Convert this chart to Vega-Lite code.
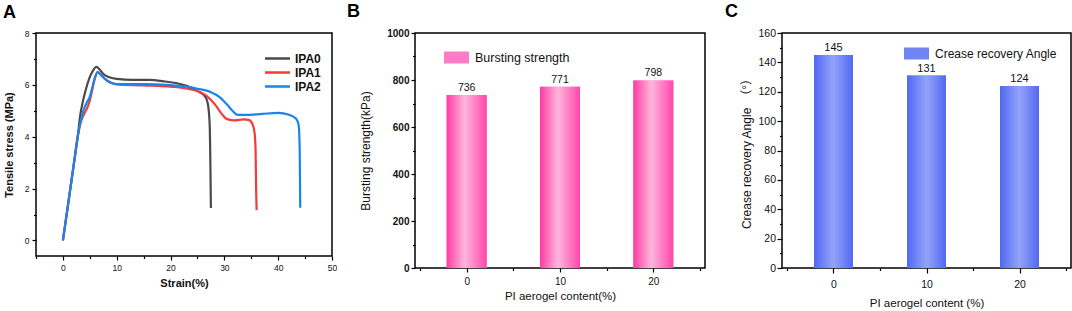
{
  "$schema": "https://vega.github.io/schema/vega-lite/v6.json",
  "background": "white",
  "padding": {"left": 2, "top": 2, "right": 0, "bottom": 0},
  "config": {
    "view": {"stroke": "black", "strokeWidth": 1.5},
    "axis": {"domain": false, "grid": false, "tickColor": "black", "tickWidth": 1.2, "labelColor": "#111", "titleColor": "#111", "labelFont": "Liberation Sans", "titleFont": "Liberation Sans", "labelOverlap": false, "labelFlush": false, "format": "d"},
    "legend": {"labelFont": "Liberation Sans", "labelColor": "#111", "padding": 0, "title": null},
    "title": {"anchor": "start", "frame": "group", "fontSize": 18, "fontWeight": "bold", "font": "Liberation Sans", "color": "black", "offset": 7}
  },
  "spacing": 8,
  "resolve": {"scale": {"fill": "independent", "color": "independent"}, "legend": {"fill": "independent", "color": "independent"}},
  "hconcat": [
    {
      "title": {"text": "A", "dx": -33},
      "width": 296,
      "height": 223,
      "data": {"values": [
        {"sample": "IPA0", "strain": 0, "stress": 0},
        {"sample": "IPA0", "strain": 1, "stress": 1.45},
        {"sample": "IPA0", "strain": 2, "stress": 2.9},
        {"sample": "IPA0", "strain": 2.75, "stress": 4.0},
        {"sample": "IPA0", "strain": 3.2, "stress": 4.8},
        {"sample": "IPA0", "strain": 3.7, "stress": 5.35},
        {"sample": "IPA0", "strain": 4.3, "stress": 5.85},
        {"sample": "IPA0", "strain": 4.9, "stress": 6.25},
        {"sample": "IPA0", "strain": 5.6, "stress": 6.55},
        {"sample": "IPA0", "strain": 6.2, "stress": 6.69},
        {"sample": "IPA0", "strain": 6.8, "stress": 6.6},
        {"sample": "IPA0", "strain": 7.5, "stress": 6.42},
        {"sample": "IPA0", "strain": 8.5, "stress": 6.3},
        {"sample": "IPA0", "strain": 10, "stress": 6.23},
        {"sample": "IPA0", "strain": 13, "stress": 6.19},
        {"sample": "IPA0", "strain": 16, "stress": 6.19},
        {"sample": "IPA0", "strain": 19, "stress": 6.13},
        {"sample": "IPA0", "strain": 21, "stress": 6.07},
        {"sample": "IPA0", "strain": 23, "stress": 5.96},
        {"sample": "IPA0", "strain": 24.5, "stress": 5.82},
        {"sample": "IPA0", "strain": 25.5, "stress": 5.7},
        {"sample": "IPA0", "strain": 26.3, "stress": 5.58},
        {"sample": "IPA0", "strain": 26.8, "stress": 5.38},
        {"sample": "IPA0", "strain": 27.1, "stress": 5.0},
        {"sample": "IPA0", "strain": 27.3, "stress": 4.3},
        {"sample": "IPA0", "strain": 27.4, "stress": 3.0},
        {"sample": "IPA0", "strain": 27.5, "stress": 1.25},
        {"sample": "IPA1", "strain": 0, "stress": 0},
        {"sample": "IPA1", "strain": 1, "stress": 1.45},
        {"sample": "IPA1", "strain": 2, "stress": 2.9},
        {"sample": "IPA1", "strain": 2.75, "stress": 4.0},
        {"sample": "IPA1", "strain": 3.3, "stress": 4.55},
        {"sample": "IPA1", "strain": 4.0, "stress": 4.9},
        {"sample": "IPA1", "strain": 4.6, "stress": 5.15},
        {"sample": "IPA1", "strain": 5.0, "stress": 5.4},
        {"sample": "IPA1", "strain": 5.5, "stress": 5.85},
        {"sample": "IPA1", "strain": 6.0, "stress": 6.3},
        {"sample": "IPA1", "strain": 6.5, "stress": 6.5},
        {"sample": "IPA1", "strain": 7.2, "stress": 6.35},
        {"sample": "IPA1", "strain": 8.1, "stress": 6.17},
        {"sample": "IPA1", "strain": 10, "stress": 6.02},
        {"sample": "IPA1", "strain": 15, "stress": 5.98},
        {"sample": "IPA1", "strain": 20, "stress": 5.93},
        {"sample": "IPA1", "strain": 23, "stress": 5.86},
        {"sample": "IPA1", "strain": 25, "stress": 5.76},
        {"sample": "IPA1", "strain": 26.5, "stress": 5.6},
        {"sample": "IPA1", "strain": 27.5, "stress": 5.42},
        {"sample": "IPA1", "strain": 28.5, "stress": 5.18},
        {"sample": "IPA1", "strain": 29.5, "stress": 4.88},
        {"sample": "IPA1", "strain": 30.5, "stress": 4.68},
        {"sample": "IPA1", "strain": 32, "stress": 4.63},
        {"sample": "IPA1", "strain": 33.5, "stress": 4.67},
        {"sample": "IPA1", "strain": 34.5, "stress": 4.65},
        {"sample": "IPA1", "strain": 35.2, "stress": 4.5},
        {"sample": "IPA1", "strain": 35.6, "stress": 4.18},
        {"sample": "IPA1", "strain": 35.8, "stress": 3.5},
        {"sample": "IPA1", "strain": 35.9, "stress": 2.0},
        {"sample": "IPA1", "strain": 36.0, "stress": 1.17},
        {"sample": "IPA2", "strain": 0, "stress": 0},
        {"sample": "IPA2", "strain": 1, "stress": 1.45},
        {"sample": "IPA2", "strain": 2, "stress": 2.9},
        {"sample": "IPA2", "strain": 2.75, "stress": 4.0},
        {"sample": "IPA2", "strain": 3.3, "stress": 4.6},
        {"sample": "IPA2", "strain": 3.8, "stress": 5.0},
        {"sample": "IPA2", "strain": 4.4, "stress": 5.3},
        {"sample": "IPA2", "strain": 5.0, "stress": 5.55},
        {"sample": "IPA2", "strain": 5.4, "stress": 5.85},
        {"sample": "IPA2", "strain": 5.9, "stress": 6.25},
        {"sample": "IPA2", "strain": 6.4, "stress": 6.47},
        {"sample": "IPA2", "strain": 7.0, "stress": 6.4},
        {"sample": "IPA2", "strain": 8.0, "stress": 6.2},
        {"sample": "IPA2", "strain": 9, "stress": 6.08},
        {"sample": "IPA2", "strain": 10, "stress": 6.03},
        {"sample": "IPA2", "strain": 15, "stress": 6.03},
        {"sample": "IPA2", "strain": 20, "stress": 5.99},
        {"sample": "IPA2", "strain": 23, "stress": 5.93},
        {"sample": "IPA2", "strain": 25, "stress": 5.85},
        {"sample": "IPA2", "strain": 27.5, "stress": 5.72},
        {"sample": "IPA2", "strain": 29, "stress": 5.55},
        {"sample": "IPA2", "strain": 30.5, "stress": 5.24},
        {"sample": "IPA2", "strain": 31.5, "stress": 5.0},
        {"sample": "IPA2", "strain": 32.5, "stress": 4.84},
        {"sample": "IPA2", "strain": 34, "stress": 4.84},
        {"sample": "IPA2", "strain": 37, "stress": 4.88},
        {"sample": "IPA2", "strain": 40, "stress": 4.92},
        {"sample": "IPA2", "strain": 42, "stress": 4.85},
        {"sample": "IPA2", "strain": 43.3, "stress": 4.7},
        {"sample": "IPA2", "strain": 43.8, "stress": 4.45},
        {"sample": "IPA2", "strain": 44.0, "stress": 3.5},
        {"sample": "IPA2", "strain": 44.1, "stress": 1.26}
      ]},
      "mark": {"type": "line", "strokeWidth": 2.2, "interpolate": "monotone"},
      "encoding": {
        "x": {"field": "strain", "type": "quantitative", "scale": {"domain": [-5, 50], "nice": false, "zero": false},
          "axis": {"title": "Strain(%)", "titleFontSize": 11, "titleFontWeight": "bold", "titlePadding": 6, "labelFontSize": 8.5, "labelPadding": 3,
            "values": [-5, 0, 5, 10, 15, 20, 25, 30, 35, 40, 45, 50],
            "labelExpr": "datum.value % 10 === 0 ? datum.label : ''",
            "tickSize": {"condition": {"test": "datum.value % 10 === 0", "value": 4}, "value": 2.5}}},
        "y": {"field": "stress", "type": "quantitative", "scale": {"domain": [-0.6, 8], "nice": false, "zero": false},
          "axis": {"title": "Tensile stress (MPa)", "titleFontSize": 11, "titleFontWeight": "bold", "titlePadding": 10, "labelFontSize": 8.5, "labelPadding": 3,
            "values": [0, 1, 2, 3, 4, 5, 6, 7, 8],
            "labelExpr": "datum.value % 2 === 0 ? datum.label : ''",
            "tickSize": {"condition": {"test": "datum.value % 2 === 0", "value": 4}, "value": 2.5}}},
        "color": {"field": "sample", "type": "nominal",
          "scale": {"domain": ["IPA0", "IPA1", "IPA2"], "range": ["#4a4a4a", "#f23b3b", "#1a84ee"]},
          "legend": {"orient": "none", "legendX": 234, "legendY": 18, "symbolType": "M-2,0H2", "symbolSize": 156.25, "symbolStrokeWidth": 2.5, "labelFontSize": 12, "labelFontWeight": "bold", "labelOffset": 10, "rowPadding": 0}}
      }
    },
    {
      "spacing": 18,
      "resolve": {"scale": {"fill": "independent"}, "legend": {"fill": "independent"}},
      "hconcat": [
        {
          "title": {"text": "B", "dx": -68},
          "width": 290,
          "height": 235,
          "data": {"values": [
            {"content": 0, "strength": 736, "series": "Bursting strength"},
            {"content": 10, "strength": 771, "series": "Bursting strength"},
            {"content": 20, "strength": 798, "series": "Bursting strength"}
          ]},
          "encoding": {
            "x": {"field": "content", "type": "quantitative", "scale": {"domain": [-5, 25], "nice": false, "zero": false},
              "axis": {"title": "PI aerogel content(%)", "titleFontSize": 11.5, "titleFontWeight": "normal", "titlePadding": 4.5, "labelFontSize": 10, "labelPadding": 4,
                "values": [-5, 0, 5, 10, 15, 20, 25],
                "labelExpr": "datum.value % 10 === 0 ? datum.label : ''",
                "tickSize": {"condition": {"test": "datum.value % 10 === 0", "value": 4}, "value": 2.5}}},
            "y": {"field": "strength", "type": "quantitative", "scale": {"domain": [0, 1000], "nice": false},
              "axis": {"title": "Bursting strength(kPa)", "titleFontSize": 12, "titleFontWeight": "normal", "titlePadding": 14, "labelFontSize": 10, "labelFontWeight": "bold", "labelPadding": 2,
                "values": [0, 100, 200, 300, 400, 500, 600, 700, 800, 900, 1000],
                "labelExpr": "datum.value % 200 === 0 ? datum.label : ''",
                "tickSize": {"condition": {"test": "datum.value % 200 === 0", "value": 4}, "value": 2.5}}}
          },
          "layer": [
            {
              "mark": {"type": "bar", "width": 40},
              "encoding": {
                "fill": {"field": "series", "type": "nominal",
                  "scale": {"domain": ["Bursting strength"], "range": ["#ff7cc4"]},
                  "legend": {"orient": "none", "legendX": 29, "legendY": 12, "symbolType": "M-1,-0.48H1V0.48H-1Z", "symbolSize": 625, "symbolStrokeWidth": 0, "labelFontSize": 12.5, "labelOffset": 6,
                    "encode": {"symbols": {"update": {"fill": {"signal": "{gradient: 'linear', x1: 0, y1: 0, x2: 1, y2: 0, stops: [{offset: 0, color: '#ff3aa4'}, {offset: 0.45, color: '#ffb6dc'}, {offset: 1, color: '#ff46ab'}]}"}}}}}}
              }
            },
            {
              "mark": {"type": "bar", "width": 40, "color": {"gradient": "linear", "x1": 0, "y1": 0, "x2": 1, "y2": 0, "stops": [{"offset": 0, "color": "#ff3aa4"}, {"offset": 0.45, "color": "#ffb6dc"}, {"offset": 1, "color": "#ff46ab"}]}}
            },
            {
              "mark": {"type": "text", "baseline": "bottom", "dy": -2, "fontSize": 10.5, "font": "Liberation Sans", "color": "#111"},
              "encoding": {"text": {"field": "strength", "type": "quantitative"}}
            }
          ]
        },
        {
          "title": {"text": "C", "dx": -57},
          "width": 289,
          "height": 235,
          "data": {"values": [
            {"content": 0, "angle": 145, "series": "Crease recovery Angle"},
            {"content": 10, "angle": 131, "series": "Crease recovery Angle"},
            {"content": 20, "angle": 124, "series": "Crease recovery Angle"}
          ]},
          "encoding": {
            "x": {"field": "content", "type": "quantitative", "scale": {"domain": [-5, 25], "nice": false, "zero": false},
              "axis": {"title": "PI aerogel content (%)", "titleFontSize": 11.5, "titleFontWeight": "normal", "titlePadding": 8, "labelFontSize": 10.5, "labelPadding": 6,
                "values": [-5, 0, 5, 10, 15, 20, 25],
                "labelExpr": "datum.value % 10 === 0 ? datum.label : ''",
                "tickSize": {"condition": {"test": "datum.value % 10 === 0", "value": 5}, "value": 2.5}}},
            "y": {"field": "angle", "type": "quantitative", "scale": {"domain": [0, 160], "nice": false},
              "axis": {"title": "Crease recovery Angle　（°）", "titleFont": "Liberation Sans, Noto Sans CJK SC", "titleFontSize": 12, "titleFontWeight": "normal", "titlePadding": 4, "labelFontSize": 10.5, "labelPadding": 1.5,
                "values": [0, 10, 20, 30, 40, 50, 60, 70, 80, 90, 100, 110, 120, 130, 140, 150, 160],
                "labelExpr": "datum.value % 20 === 0 ? datum.label : ''",
                "tickSize": {"condition": {"test": "datum.value % 20 === 0", "value": 5}, "value": 2.5}}}
          },
          "layer": [
            {
              "mark": {"type": "bar", "width": 39},
              "encoding": {
                "fill": {"field": "series", "type": "nominal",
                  "scale": {"domain": ["Crease recovery Angle"], "range": ["#7084f6"]},
                  "legend": {"orient": "none", "legendX": 122, "legendY": 8, "symbolType": "M-1,-0.48H1V0.48H-1Z", "symbolSize": 625, "symbolStrokeWidth": 0, "labelFontSize": 12, "labelOffset": 6,
                    "encode": {"symbols": {"update": {"fill": {"signal": "{gradient: 'linear', x1: 0, y1: 0, x2: 1, y2: 0, stops: [{offset: 0, color: '#5168f3'}, {offset: 0.5, color: '#93a3fa'}, {offset: 1, color: '#5268f2'}]}"}}}}}}
              }
            },
            {
              "mark": {"type": "bar", "width": 39, "color": {"gradient": "linear", "x1": 0, "y1": 0, "x2": 1, "y2": 0, "stops": [{"offset": 0, "color": "#5168f3"}, {"offset": 0.5, "color": "#93a3fa"}, {"offset": 1, "color": "#5268f2"}]}}
            },
            {
              "mark": {"type": "text", "baseline": "bottom", "dy": -2, "fontSize": 11, "font": "Liberation Sans", "color": "#111"},
              "encoding": {"text": {"field": "angle", "type": "quantitative"}}
            }
          ]
        }
      ]
    }
  ]
}
